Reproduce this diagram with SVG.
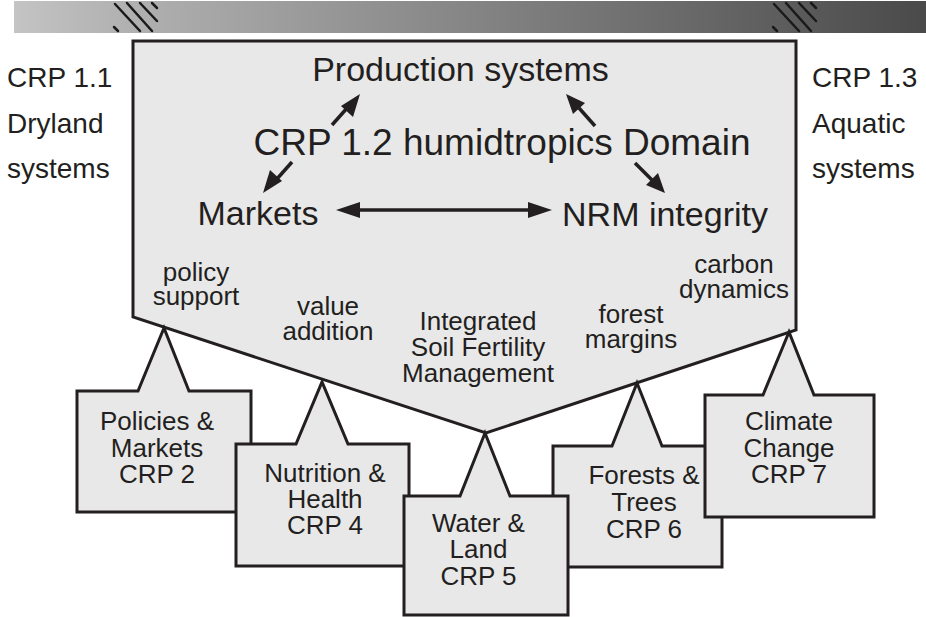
<svg xmlns="http://www.w3.org/2000/svg" width="926" height="617" viewBox="0 0 926 617">
<defs>
<linearGradient id="bar" x1="0" y1="0" x2="1" y2="0">
<stop offset="0" stop-color="#c4c4c4"/>
<stop offset="0.1" stop-color="#b4b4b4"/>
<stop offset="1" stop-color="#4a4a4a"/>
</linearGradient>
<marker id="ah" viewBox="0 0 10 10" refX="9" refY="5" markerWidth="8" markerHeight="6" markerUnits="userSpaceOnUse" orient="auto" overflow="visible">
<path d="M0,0 L10,5 L0,10 Z" fill="#231f20"/>
</marker>
<marker id="ah2" viewBox="0 0 22 16" refX="22" refY="8" markerWidth="22" markerHeight="16" markerUnits="userSpaceOnUse" orient="auto-start-reverse">
<path d="M0,0 L22,8 L0,16 Z" fill="#231f20"/>
</marker>
</defs>
<style>
text{font-family:"Liberation Sans",Arial,sans-serif;fill:#231f20}
.big{font-size:34px}
.side{font-size:28px}
.sm{font-size:26px;text-anchor:middle}
.box{fill:#e8e8e8;stroke:#231f20;stroke-width:3;stroke-linejoin:miter}
.hatch{stroke:#1a1a1a;stroke-width:2.5;stroke-linecap:round}
.arr{stroke:#231f20;stroke-width:3.5;fill:none}
</style>
<g id="topbar">
<rect x="14" y="1" width="912" height="32" fill="url(#bar)"/>
<g class="hatch">
<line x1="114" y1="27" x2="118" y2="31"/>
<line x1="115" y1="4" x2="140" y2="31"/>
<line x1="127" y1="3" x2="152" y2="31"/>
<line x1="140" y1="3" x2="157" y2="21"/>
<line x1="152" y1="3" x2="157" y2="8"/>
<line x1="773" y1="27" x2="777" y2="31"/>
<line x1="774" y1="4" x2="799" y2="31"/>
<line x1="786" y1="3" x2="811" y2="31"/>
<line x1="799" y1="3" x2="816" y2="21"/>
<line x1="811" y1="3" x2="816" y2="8"/>
</g>
</g>
<g id="side-left">
<text class="side" x="7" y="87">CRP 1.1</text>
<text class="side" x="7" y="133">Dryland</text>
<text class="side" x="7" y="178">systems</text>
</g>
<g id="side-right">
<text class="side" x="812" y="87">CRP 1.3</text>
<text class="side" x="812" y="133">Aquatic</text>
<text class="side" x="812" y="178">systems</text>
</g>
<g id="domain">
<path class="box" d="M133,41 H796 V330 L486,433 L133,317 Z"/>
<text class="big" x="460.5" y="81" text-anchor="middle">Production systems</text>
<text x="502" y="155" text-anchor="middle" style="font-size:37px">CRP 1.2 humidtropics Domain</text>
<text class="big" x="258" y="225" text-anchor="middle">Markets</text>
<text class="big" x="665" y="226" text-anchor="middle">NRM integrity</text>
<text class="sm" x="196" y="281">policy</text>
<text class="sm" x="196" y="305">support</text>
<text class="sm" x="328" y="315">value</text>
<text class="sm" x="328" y="340">addition</text>
<text class="sm" x="478" y="330">Integrated</text>
<text class="sm" x="478" y="356">Soil Fertility</text>
<text class="sm" x="478" y="382">Management</text>
<text class="sm" x="631" y="323">forest</text>
<text class="sm" x="631" y="348">margins</text>
<text class="sm" x="734" y="273">carbon</text>
<text class="sm" x="734" y="298">dynamics</text>
</g>
<g id="connectors">
<line class="arr" x1="358" y1="210" x2="530" y2="210"/>
<path d="M336,210 L360,202 L360,218 Z" fill="#231f20"/>
<path d="M552,210 L528,202 L528,218 Z" fill="#231f20"/>
<line class="arr" x1="332" y1="125" x2="348" y2="107"/>
<path d="M360,94 L353,117 L341,106 Z" fill="#231f20"/>
<line class="arr" x1="292" y1="162" x2="276" y2="180"/>
<path d="M263,193 L270,170 L282,181 Z" fill="#231f20"/>
<line class="arr" x1="595" y1="126" x2="579" y2="108"/>
<path d="M566,94 L585,103 L573,114 Z" fill="#231f20"/>
<line class="arr" x1="635" y1="163" x2="652" y2="180"/>
<path d="M665,193 L646,185 L658,173 Z" fill="#231f20"/>
</g>
<g id="crp2">
<path class="box" d="M77,391 H138 L164,328 L189,391 H251 V512 H77 Z"/>
<text class="sm" x="157" y="430">Policies &amp;</text>
<text class="sm" x="157" y="457">Markets</text>
<text class="sm" x="157" y="483">CRP 2</text>
</g>
<g id="crp6">
<path class="box" d="M553,446 H612 L637,383 L662,446 H722 V567 H553 Z"/>
<text class="sm" x="644" y="484">Forests &amp;</text>
<text class="sm" x="644" y="511">Trees</text>
<text class="sm" x="644" y="538">CRP 6</text>
</g>
<g id="crp4">
<path class="box" d="M236,444 H296 L322,382 L348,444 H409 V566 H236 Z"/>
<text class="sm" x="325" y="482">Nutrition &amp;</text>
<text class="sm" x="325" y="508">Health</text>
<text class="sm" x="325" y="534">CRP 4</text>
</g>
<g id="crp7">
<path class="box" d="M705,395 H763 L789,332 L814,395 H874 V517 H705 Z"/>
<text class="sm" x="789" y="430">Climate</text>
<text class="sm" x="789" y="457">Change</text>
<text class="sm" x="789" y="483">CRP 7</text>
</g>
<g id="crp5">
<path class="box" d="M404,496 H460 L485,433 L510,496 H568 V615 H404 Z"/>
<text class="sm" x="478.5" y="532">Water &amp;</text>
<text class="sm" x="478.5" y="558">Land</text>
<text class="sm" x="478.5" y="585">CRP 5</text>
</g>
</svg>
